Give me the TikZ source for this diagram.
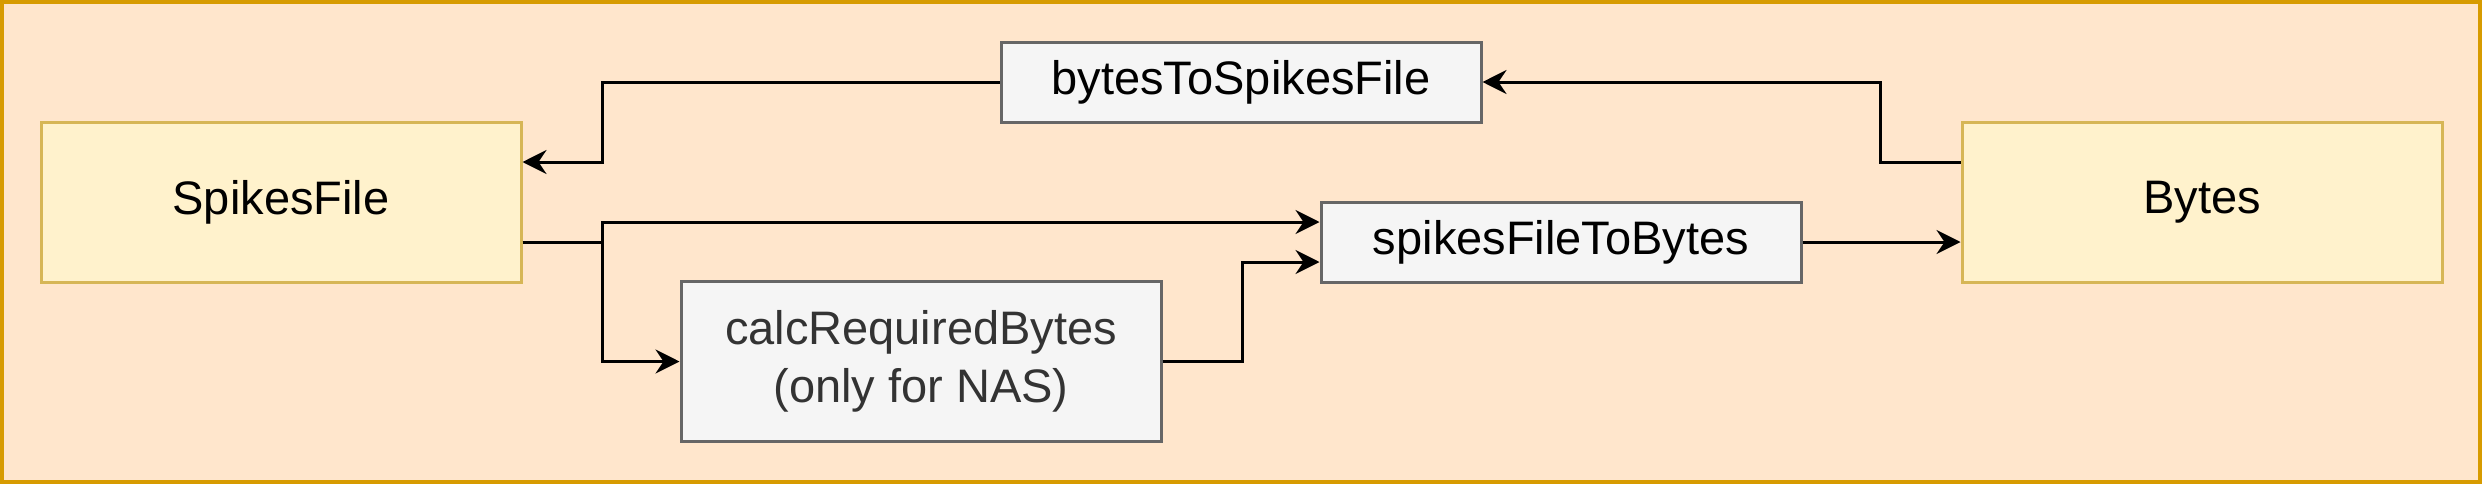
\documentclass[tikz,border=0pt]{standalone}
\usepackage{fontspec}
\setmainfont{Liberation Sans}
\usepackage{tikz}
\usetikzlibrary{arrows.meta}
\definecolor{sf-frame}{HTML}{D79B00}
\definecolor{sf-back}{HTML}{FFE6CC}
\definecolor{sf-data}{HTML}{FFF2CC}
\definecolor{sf-dataline}{HTML}{D6B656}
\definecolor{sf-func}{HTML}{F5F5F5}
\definecolor{sf-funcline}{HTML}{666666}
\definecolor{sf-functext}{HTML}{333333}

\begin{document}
\begin{tikzpicture}[x=0.5pt, y=-0.5pt,
  datanode/.style={draw=sf-dataline, fill=sf-data, line width=1.5pt, minimum width=240pt, minimum height=80pt, inner sep=0pt, font=\fontsize{23.5}{29}\selectfont},
  funcnode/.style={draw=sf-funcline, fill=sf-func, line width=1.5pt, minimum width=240pt, minimum height=40pt, inner sep=0pt, align=center, font=\fontsize{23.5}{29}\selectfont},
  flow/.style={line width=1.5pt, -{Stealth[length=12pt, width=12pt, inset=4pt]}}]
\useasboundingbox (0,0) rectangle (2484,488);
\draw[sf-frame, fill=sf-back, line width=2pt] (2,2) rectangle (2480,482);
% data
\node[datanode] (sf) at (281,202) {SpikesFile};
\node[datanode] (by) at (2202,202) {Bytes};
% functions
\node[funcnode] (b2s) at (1241,82) {bytesToSpikesFile};
\node[funcnode] (s2b) at (1561,242) {spikesFileToBytes};
\node[funcnode, minimum height=80pt, text=sf-functext] (calc) at (921,361.5) {calcRequiredBytes\\(only for NAS)};
% connectors
\draw[flow] ([yshift=20pt]by.west) -- ++(-40pt,0) |- (b2s.east);
\draw[flow] (b2s.west) -| ([shift={(40pt,20pt)}]sf.east) -- ([yshift=20pt]sf.east);
\draw[flow] ([yshift=-20pt]sf.east) -- ++(40pt,0) |- ([yshift=10pt]s2b.west);
\draw[flow] ([yshift=-20pt]sf.east) -- ++(40pt,0) |- (calc.west);
\draw[flow] (calc.east) -- ++(40pt,0) |- ([yshift=-10pt]s2b.west);
\draw[flow] (s2b.east) -- (s2b.east -| by.west);
\end{tikzpicture}
\end{document}
